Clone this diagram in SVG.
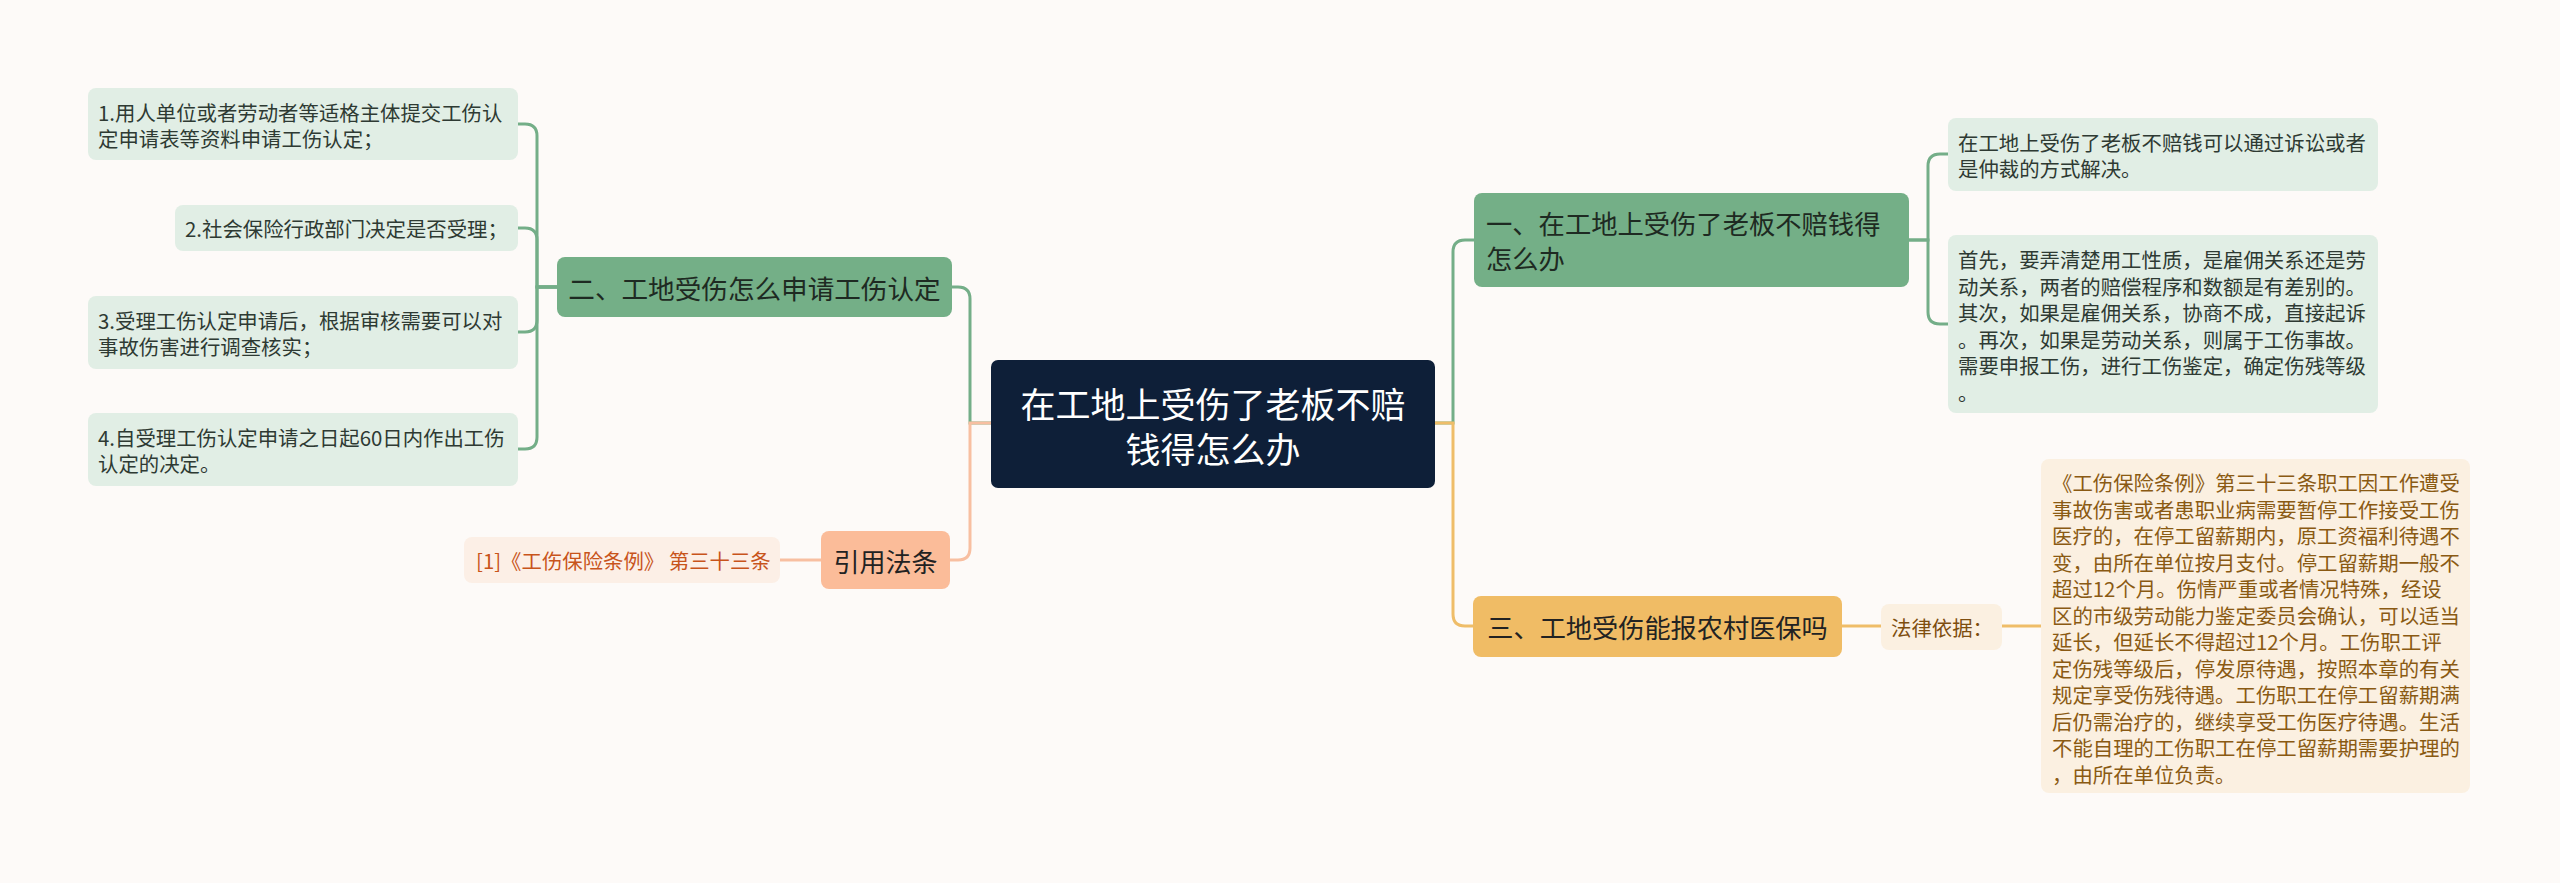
<svg xmlns="http://www.w3.org/2000/svg" width="2560" height="883" viewBox="0 0 2560 883">
<style>
text{font-family:"Noto Sans CJK SC","Noto Sans",sans-serif;dominant-baseline:central}
.leafG{fill:#e1eee5}
.leafT{font-size:20.4px;fill:#2e3a33}
.brG{fill:#74af87}
.brT{fill:#1e2a22}
.cg{stroke:#74ae88;stroke-width:3;fill:none}
.co{stroke:#efbd69;stroke-width:3;fill:none}
.cs{stroke:#f8bfa1;stroke-width:3;fill:none}
</style>
<rect x="0" y="0" width="2560" height="883" fill="#fdfaf8"/>
<g id="connectors">
<path class="cg" d="M991 423H970V299Q970 287 958 287H952"/>
<path class="cs" d="M991 423H970V548Q970 560 958 560H950"/>
<path class="cs" d="M821 560H780"/>
<path class="cg" d="M1435 423H1453V252Q1453 240 1465 240H1474"/>
<path class="co" d="M1435 423H1453V614Q1453 626 1465 626H1473"/>
<path class="cg" d="M1909 240H1928V166Q1928 154 1940 154H1948"/>
<path class="cg" d="M1909 240H1928V312Q1928 324 1940 324H1948"/>
<path class="cg" d="M557 287H537V136Q537 124 525 124H518"/>
<path class="cg" d="M557 287H537V240Q537 228 525 228H518"/>
<path class="cg" d="M557 287H537V320Q537 332 525 332H518"/>
<path class="cg" d="M557 287H537V437Q537 449 525 449H518"/>
<path class="co" d="M1842 626H1881"/>
<path class="co" d="M2002 626H2041"/>
</g>
<g id="central">
<rect x="991" y="360" width="444" height="128" rx="7" fill="#0e1f38"/>
<text x="1213" y="402" font-size="35" fill="#ffffff" text-anchor="middle">在工地上受伤了老板不赔</text>
<text x="1213" y="447" font-size="35" fill="#ffffff" text-anchor="middle">钱得怎么办</text>
</g>
<g id="branch2">
<rect class="brG" x="557" y="257" width="395" height="60" rx="8"/>
<text class="brT" x="754.5" y="287" font-size="26.6" text-anchor="middle">二、工地受伤怎么申请工伤认定</text>
</g>
<g id="leaf2-1">
<rect class="leafG" x="88" y="88" width="430" height="72" rx="8"/>
<text class="leafT" x="98" y="111.5">1.用人单位或者劳动者等适格主体提交工伤认</text>
<text class="leafT" x="98" y="138">定申请表等资料申请工伤认定；</text>
</g>
<g id="leaf2-2">
<rect class="leafG" x="175" y="205" width="343" height="46" rx="8"/>
<text class="leafT" x="185" y="228">2.社会保险行政部门决定是否受理；</text>
</g>
<g id="leaf2-3">
<rect class="leafG" x="88" y="296" width="430" height="73" rx="8"/>
<text class="leafT" x="98" y="319.5">3.受理工伤认定申请后，根据审核需要可以对</text>
<text class="leafT" x="98" y="346">事故伤害进行调查核实；</text>
</g>
<g id="leaf2-4">
<rect class="leafG" x="88" y="413" width="430" height="73" rx="8"/>
<text class="leafT" x="98" y="436.5">4.自受理工伤认定申请之日起60日内作出工伤</text>
<text class="leafT" x="98" y="463">认定的决定。</text>
</g>
<g id="cite">
<rect x="821" y="531" width="129" height="58" rx="8" fill="#fbbc99"/>
<text x="885.5" y="560" font-size="26" fill="#222" text-anchor="middle">引用法条</text>
</g>
<g id="cite-1">
<rect x="464" y="537" width="316" height="46" rx="8" fill="#fcefe6"/>
<text x="476" y="560" font-size="20.4" fill="#c8541b">[1]《工伤保险条例》 第三十三条</text>
</g>
<g id="branch1">
<rect class="brG" x="1474" y="193" width="435" height="94" rx="8"/>
<text class="brT" x="1486" y="222.5" font-size="26.3">一、在工地上受伤了老板不赔钱得</text>
<text class="brT" x="1486" y="257.5" font-size="26.3">怎么办</text>
</g>
<g id="leaf1-1">
<rect class="leafG" x="1948" y="118" width="430" height="73" rx="8"/>
<text class="leafT" x="1958" y="141.5">在工地上受伤了老板不赔钱可以通过诉讼或者</text>
<text class="leafT" x="1958" y="168">是仲裁的方式解决。</text>
</g>
<g id="leaf1-2">
<rect class="leafG" x="1948" y="235" width="430" height="178" rx="8"/>
<text class="leafT" x="1958" y="259">首先，要弄清楚用工性质，是雇佣关系还是劳</text>
<text class="leafT" x="1958" y="285.5">动关系，两者的赔偿程序和数额是有差别的。</text>
<text class="leafT" x="1958" y="312">其次，如果是雇佣关系，协商不成，直接起诉</text>
<text class="leafT" x="1958" y="338.5">。再次，如果是劳动关系，则属于工伤事故。</text>
<text class="leafT" x="1958" y="365">需要申报工伤，进行工伤鉴定，确定伤残等级</text>
<text class="leafT" x="1958" y="391.5">。</text>
</g>
<g id="branch3">
<rect x="1473" y="596" width="369" height="61" rx="8" fill="#f0bc65"/>
<text x="1657.5" y="626.5" font-size="26.2" fill="#222" text-anchor="middle">三、工地受伤能报农村医保吗</text>
</g>
<g id="basis">
<rect x="1881" y="604" width="121" height="46" rx="8" fill="#fbf0e1"/>
<text x="1891" y="627" font-size="20.4" fill="#7e4e0f">法律依据：</text>
</g>
<g id="law">
<rect x="2041" y="459" width="429" height="334" rx="8" fill="#fbf0e1"/>
<g font-size="20.4" fill="#8a5a13">
<text x="2052" y="482">《工伤保险条例》第三十三条职工因工作遭受</text>
<text x="2052" y="508.5">事故伤害或者患职业病需要暂停工作接受工伤</text>
<text x="2052" y="535">医疗的，在停工留薪期内，原工资福利待遇不</text>
<text x="2052" y="561.5">变，由所在单位按月支付。停工留薪期一般不</text>
<text x="2052" y="588">超过12个月。伤情严重或者情况特殊，经设</text>
<text x="2052" y="614.5">区的市级劳动能力鉴定委员会确认，可以适当</text>
<text x="2052" y="641">延长，但延长不得超过12个月。工伤职工评</text>
<text x="2052" y="667.5">定伤残等级后，停发原待遇，按照本章的有关</text>
<text x="2052" y="694">规定享受伤残待遇。工伤职工在停工留薪期满</text>
<text x="2052" y="720.5">后仍需治疗的，继续享受工伤医疗待遇。生活</text>
<text x="2052" y="747">不能自理的工伤职工在停工留薪期需要护理的</text>
<text x="2052" y="773.5">，由所在单位负责。</text>
</g>
</g>
</svg>
